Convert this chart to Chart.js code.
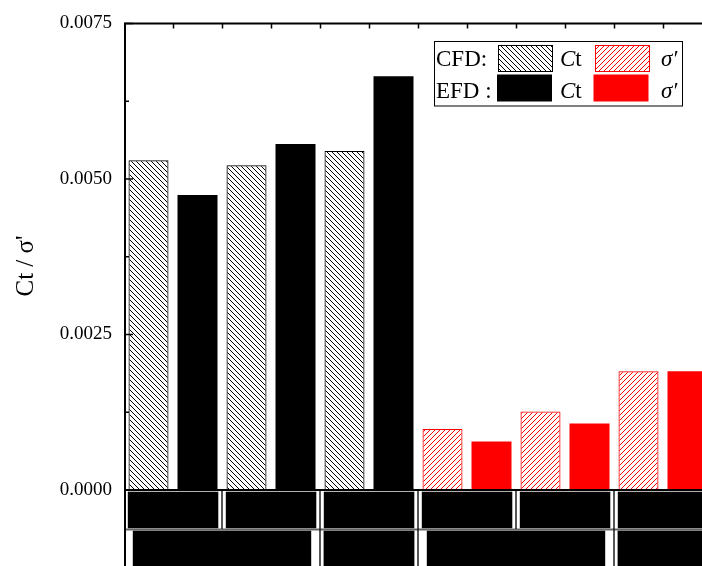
<!DOCTYPE html>
<html>
<head>
<meta charset="utf-8">
<script src="https://cdn.jsdelivr.net/npm/chart.js@4.4.1/dist/chart.umd.min.js"></script>
<style>
  html, body { margin: 0; padding: 0; background: #fff; overflow: hidden; }
  #wrap { width: 702px; height: 566px; overflow: hidden; position: relative; }
  canvas { position: absolute; left: 0; top: 0; }
</style>
</head>
<body>
<div id="wrap"><canvas id="c" width="716" height="566"></canvas></div>
<script>
// Thrust coefficient Ct and sigma' for three cases, CFD vs EFD
const cases = ['Case 1', 'Case 2', 'Case 3'];
const cfdCt = [0.00530, 0.00522, 0.00545];
const efdCt = [0.00474, 0.00556, 0.00665];
const cfdSigma = [0.00098, 0.00126, 0.00191];
const efdSigma = [0.00078, 0.00107, 0.00191];
const yTicks = [0, 0.0025, 0.005, 0.0075];

// slot order: Ct pairs per case, then sigma' pairs per case
const slots = [];
cases.forEach(c => { slots.push(c + ' Ct CFD', c + ' Ct EFD'); });
cases.forEach(c => { slots.push(c + " σ' CFD", c + " σ' EFD"); });

function spread(values, offset) {
  const arr = new Array(slots.length).fill(null);
  values.forEach((v, i) => { arr[offset + i * 2] = v; });
  return arr;
}

// diagonal hatch fill; back = "\\" direction, otherwise "/"
function makePattern(color, back) {
  const s = 5;
  const c = document.createElement('canvas');
  c.width = s; c.height = s;
  const g = c.getContext('2d');
  g.strokeStyle = color;
  g.lineWidth = 1;
  g.beginPath();
  if (back) {
    g.moveTo(-1, -1); g.lineTo(s + 1, s + 1);
    g.moveTo(-1, s - 1); g.lineTo(1, s + 1);
    g.moveTo(s - 1, -1); g.lineTo(s + 1, 1);
  } else {
    g.moveTo(-1, s + 1); g.lineTo(s + 1, -1);
    g.moveTo(-1, 1); g.lineTo(1, -1);
    g.moveTo(s - 1, s + 1); g.lineTo(s + 1, s - 1);
  }
  g.stroke();
  return g.createPattern(c, 'repeat');
}

const ctx0 = document.getElementById('c').getContext('2d');
const blackHatch = makePattern('#000', true);
const redHatch = makePattern('#ff0000', false);

const SERIF = '"Liberation Serif", "Times New Roman", serif';

// Category table under the axis: top row pairs, bottom row case groups
const row1Groups = [[0, 1], [2, 3], [4, 5], [6, 7], [8, 9], [10, 11]];
const row2Groups = [[0, 3], [4, 5], [6, 9], [10, 11]];

const framePlugin = {
  id: 'frame',
  afterDraw(chart) {
    const { ctx, chartArea: a, scales: { x, y } } = chart;
    const H = chart.height, W = chart.width;
    const half = (x.getPixelForValue(1) - x.getPixelForValue(0)) / 2;
    const L = i => x.getPixelForValue(i) - half;
    const R = i => x.getPixelForValue(i) + half;
    ctx.save();

    // table cells
    const r1Top = 491.7, r1Bot = 528.3, r2Top = 530.6;
    ctx.fillStyle = '#000';
    row1Groups.forEach(([s, e]) => {
      ctx.fillRect(L(s) + 3.8, r1Top, R(e) - L(s) - 7.5, r1Bot - r1Top);
    });
    row2Groups.forEach(([s, e]) => {
      const inset = (e - s) > 1 ? 8.8 : 3.6;
      ctx.fillRect(L(s) + inset, r2Top, R(e) - L(s) - 2 * inset, H - r2Top);
    });
    ctx.strokeStyle = '#666';
    ctx.lineWidth = 2;
    ctx.beginPath(); ctx.moveTo(a.left, 529.5); ctx.lineTo(W, 529.5); ctx.stroke();
    ctx.strokeStyle = '#111';
    ctx.lineWidth = 1.4;
    ctx.beginPath();
    row1Groups.slice(1).forEach(([s]) => { ctx.moveTo(L(s), a.bottom); ctx.lineTo(L(s), 529); });
    row2Groups.slice(1).forEach(([s]) => { ctx.moveTo(L(s), 529); ctx.lineTo(L(s), H); });
    ctx.stroke();

    // axis frame
    ctx.strokeStyle = '#000';
    ctx.lineWidth = 2;
    ctx.beginPath();
    ctx.moveTo(a.left + 1, H); ctx.lineTo(a.left + 1, a.top - 1);
    ctx.moveTo(a.left, a.top); ctx.lineTo(W, a.top);
    ctx.moveTo(a.left, a.bottom); ctx.lineTo(W, a.bottom);
    ctx.stroke();

    // inward ticks: top axis at slot boundaries, left axis major + minor
    ctx.lineWidth = 1.5;
    ctx.beginPath();
    for (let i = 1; i < slots.length; i++) {
      const px = Math.round(L(i)) + 0.5;
      ctx.moveTo(px, a.top); ctx.lineTo(px, a.top + 5);
    }
    y.ticks.forEach((t, i) => {
      const py = y.getPixelForValue(t.value);
      ctx.moveTo(a.left, py); ctx.lineTo(a.left + 9, py);
      if (i < y.ticks.length - 1) {
        const pm = y.getPixelForValue((t.value + y.ticks[i + 1].value) / 2);
        ctx.moveTo(a.left, pm); ctx.lineTo(a.left + 5, pm);
      }
    });
    ctx.stroke();

    // y axis title
    ctx.save();
    ctx.translate(26, 266);
    ctx.rotate(-Math.PI / 2);
    ctx.fillStyle = '#000';
    ctx.font = '25px ' + SERIF;
    ctx.textAlign = 'center';
    ctx.textBaseline = 'middle';
    ctx.fillText("Ct / σ'", 0, 0);
    ctx.restore();

    // legend
    ctx.lineWidth = 1;
    ctx.strokeStyle = '#000';
    ctx.fillStyle = '#fff';
    ctx.fillRect(434.5, 41.5, 248, 64.5);
    ctx.strokeRect(434.5, 41.5, 248, 64.5);
    const swatch = (x0, y0, fill, border) => {
      ctx.fillStyle = fill;
      ctx.fillRect(x0, y0, 55, 27);
      if (border) { ctx.strokeStyle = border; ctx.strokeRect(x0 + 0.5, y0 + 0.5, 54, 26); }
    };
    swatch(498, 45, blackHatch, '#000');
    swatch(595, 45, redHatch, '#ff0000');
    swatch(497, 74.5, '#000', null);
    swatch(593.5, 74.5, '#ff0000', null);
    ctx.fillStyle = '#000';
    ctx.textBaseline = 'alphabetic';
    const rows = [['CFD:', 66], ['EFD :', 97.5]];
    rows.forEach(([lab, by]) => {
      ctx.font = '23px ' + SERIF;
      ctx.fillText(lab, 436, by);
      ctx.font = 'italic 23px ' + SERIF;
      ctx.fillText('C', 560, by);
      const cw = ctx.measureText('C').width;
      ctx.font = '23px ' + SERIF;
      ctx.fillText('t', 560 + cw, by);
      ctx.font = 'italic 23px ' + SERIF;
      ctx.fillText('σ′', 661, by);
    });
    ctx.restore();
  }
};

const datasets = [
  { label: 'CFD Ct', data: spread(cfdCt, 0), backgroundColor: blackHatch, borderColor: '#000', borderWidth: 1 },
  { label: 'EFD Ct', data: spread(efdCt, 1), backgroundColor: '#000', borderColor: '#000', borderWidth: 0 },
  { label: "CFD σ'", data: spread(cfdSigma, 6), backgroundColor: redHatch, borderColor: '#ff0000', borderWidth: 1 },
  { label: "EFD σ'", data: spread(efdSigma, 7), backgroundColor: '#ff0000', borderColor: '#ff0000', borderWidth: 0 }
];

new Chart(ctx0, {
  type: 'bar',
  data: { labels: slots, datasets },
  options: {
    responsive: false,
    animation: false,
    devicePixelRatio: 1,
    layout: { padding: { left: 0, top: 20.5, right: 4, bottom: 76 } },
    plugins: { legend: { display: false }, tooltip: { enabled: false } },
    datasets: { bar: { skipNull: true, categoryPercentage: 1, barPercentage: 40 / 49 } },
    scales: {
      x: { display: false },
      y: {
        min: 0, max: 0.0075,
        afterBuildTicks: s => { s.ticks = yTicks.map(v => ({ value: v })); },
        afterFit: s => { s.width = 124; },
        grid: { display: false, drawTicks: false },
        border: { display: false },
        ticks: {
          padding: 12,
          color: '#000',
          font: { family: SERIF, size: 19 },
          callback: v => Number(v).toFixed(4)
        }
      }
    }
  },
  plugins: [framePlugin]
});
</script>
</body>
</html>
